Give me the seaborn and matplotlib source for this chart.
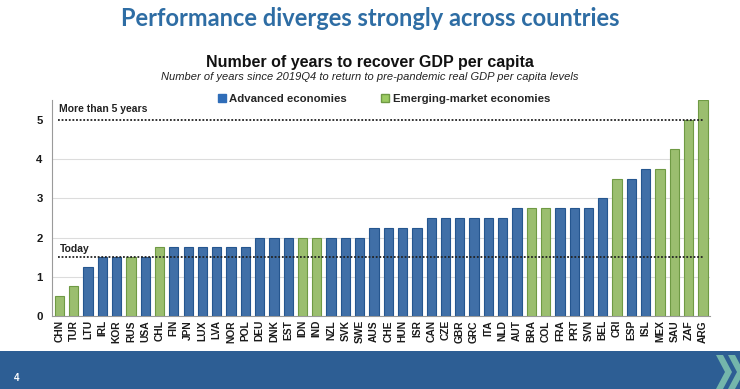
import matplotlib
matplotlib.use("Agg")
import matplotlib.pyplot as plt
import pandas as pd
import seaborn as sns
from matplotlib.patches import Patch, Polygon, Rectangle

# data
countries = ["CHN", "TUR", "LTU", "IRL", "KOR", "RUS", "USA", "CHL", "FIN", "JPN",
             "LUX", "LVA", "NOR", "POL", "DEU", "DNK", "EST", "IDN", "IND", "NZL",
             "SVK", "SWE", "AUS", "CHE", "HUN", "ISR", "CAN", "CZE", "GBR", "GRC",
             "ITA", "NLD", "AUT", "BRA", "COL", "FRA", "PRT", "SVN", "BEL", "CRI",
             "ESP", "ISL", "MEX", "SAU", "ZAF", "ARG"]
years = [0.5, 0.75, 1.25, 1.5, 1.5, 1.5, 1.5, 1.75, 1.75, 1.75,
         1.75, 1.75, 1.75, 1.75, 2.0, 2.0, 2.0, 2.0, 2.0, 2.0,
         2.0, 2.0, 2.25, 2.25, 2.25, 2.25, 2.5, 2.5, 2.5, 2.5,
         2.5, 2.5, 2.75, 2.75, 2.75, 2.75, 2.75, 2.75, 3.0, 3.5,
         3.5, 3.75, 3.75, 4.25, 5.0, 5.5]
emerging = ["CHN", "TUR", "RUS", "CHL", "IDN", "IND", "BRA", "COL", "CRI", "MEX", "SAU", "ZAF", "ARG"]
today = 1.5
five_years = 5.0

df = pd.DataFrame({"country": countries, "years": years})
df["group"] = ["Emerging-market economies" if c in emerging else "Advanced economies" for c in countries]

blue = "#2F6DB8"
green = "#9CCB62"
edges = {"Advanced economies": "#25568F", "Emerging-market economies": "#6F9A44"}
palette = {"Advanced economies": blue, "Emerging-market economies": green}

sns.set_style("white")
plt.rcParams["font.family"] = ["Liberation Sans", "DejaVu Sans"]

fig = plt.figure(figsize=(7.4, 3.89), dpi=100)
ax = fig.add_axes([0.0707, 0.188, 0.8888, 0.554])

sns.barplot(data=df, x="country", y="years", hue="group", palette=palette,
            dodge=False, width=0.65, legend=False, ax=ax, zorder=3)
# patches come grouped by hue, so match edges by bar position
for bar in ax.patches:
    i = int(round(bar.get_x() + bar.get_width() / 2))
    bar.set_edgecolor(edges[df["group"][i]])
    bar.set_linewidth(0.8)

ax.set_xlim(-0.5, len(countries) - 0.5)
ax.set_ylim(0, 5.5)
ax.set_yticks([0, 1, 2, 3, 4, 5])
for v in [1, 2, 3, 4]:
    ax.axhline(v, color="#DCDCDC", lw=0.8, zorder=1)

ax.plot([-0.1, len(countries) - 1], [five_years, five_years], ls=(0, (1, 1)), color="#222222", lw=1.3, zorder=4)
ax.plot([-0.1, len(countries) - 1], [today, today], ls=(0, (1, 1)), color="#222222", lw=1.3, zorder=4)
ax.text(0.0, five_years + 0.2, "More than 5 years", fontsize=7.5, fontweight="bold", color="#222222")
ax.text(0.0, today + 0.12, "Today", fontsize=7.5, fontweight="bold", color="#222222")

ax.set_xlabel("")
ax.set_ylabel("")
for s in ["top", "right"]:
    ax.spines[s].set_visible(False)
for s in ["left", "bottom"]:
    ax.spines[s].set_color("#9A9A9A")
    ax.spines[s].set_linewidth(0.8)

ax.tick_params(axis="x", which="major", length=0, pad=3, labelsize=7.4, rotation=90)
ax.set_xticks([i + 0.5 for i in range(len(countries))], minor=True)
ax.tick_params(axis="x", which="minor", length=3, color="#9A9A9A", width=0.8)
ax.tick_params(axis="y", length=0, pad=7, labelsize=8.2)
for lab in ax.get_xticklabels() + ax.get_yticklabels():
    lab.set_fontweight("bold")
    lab.set_color("#1A1A1A")

handles = [Patch(facecolor=blue, edgecolor=blue, label="Advanced economies"),
           Patch(facecolor=green, edgecolor="#6F9A44", label="Emerging-market economies")]
leg = fig.legend(handles=handles, loc="center", bbox_to_anchor=(0.519, 0.745), ncol=2,
                 frameon=False, fontsize=8.2, handlelength=0.7, handleheight=0.7,
                 handletextpad=0.3, columnspacing=3.0)
for t in leg.get_texts():
    t.set_fontweight("bold")

fig.text(0.5, 0.952, "Performance diverges strongly across countries", ha="center", va="center",
         fontsize=17, fontweight="bold", color="#2E6DA4", family=["Lato", "DejaVu Sans"])
fig.text(0.5, 0.84, "Number of years to recover GDP per capita", ha="center", va="center",
         fontsize=11.5, fontweight="bold", color="#111111")
fig.text(0.5, 0.802, "Number of years since 2019Q4 to return to pre-pandemic real GDP per capita levels",
         ha="center", va="center", fontsize=8.0, style="italic", color="#222222")

# footer band
fig.patches.append(Rectangle((0, 0), 1, 38 / 389, transform=fig.transFigure,
                             facecolor="#2D5E94", edgecolor="none", zorder=0))
fig.text(14 / 740, 11 / 389, "4", color="white", fontsize=7, fontweight="bold", va="center")
for x0 in [716, 728]:
    pts = [(x0, 355), (x0 + 7, 355), (x0 + 16, 372), (x0 + 7, 389), (x0, 389), (x0 + 9, 372)]
    fig.patches.append(Polygon([(px / 740, 1 - py / 389) for px, py in pts], closed=True,
                               transform=fig.transFigure, facecolor="#7CC0AE",
                               edgecolor="none", alpha=0.9, zorder=1))

fig.savefig("out.png", dpi=100)
